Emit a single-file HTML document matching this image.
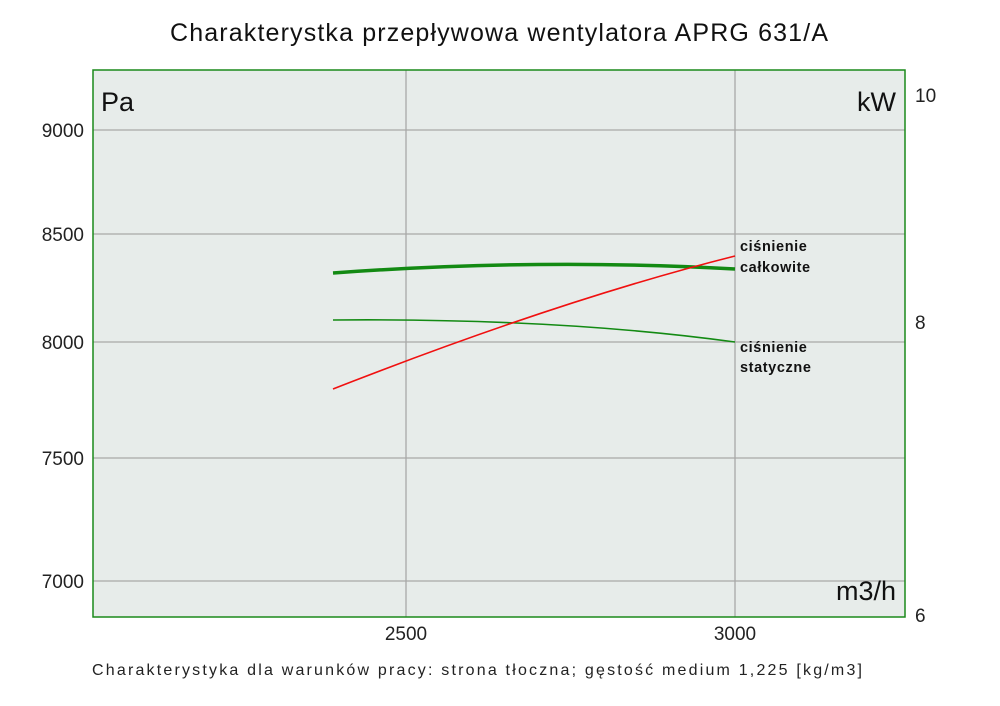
<!DOCTYPE html>
<html><head><style>body{margin:0;background:#fff}svg{display:block}</style></head><body>
<svg width="1000" height="706" xmlns="http://www.w3.org/2000/svg" font-family="'Liberation Sans', sans-serif">
<rect width="1000" height="706" fill="#fff"/>
<text x="170" y="41" font-size="25" fill="#111" textLength="658" lengthAdjust="spacing">Charakterystka przepływowa wentylatora APRG 631/A</text>
<rect x="93" y="70" width="812" height="547" fill="#e7ecea"/>
<g stroke="#a8a8a8" stroke-width="1.3">
<line x1="93" y1="130" x2="905" y2="130"/>
<line x1="93" y1="234" x2="905" y2="234"/>
<line x1="93" y1="342" x2="905" y2="342"/>
<line x1="93" y1="458" x2="905" y2="458"/>
<line x1="93" y1="581" x2="905" y2="581"/>
<line x1="406" y1="70" x2="406" y2="617"/>
<line x1="735" y1="70" x2="735" y2="617"/>
</g>
<rect x="93" y="70" width="812" height="547" fill="none" stroke="#1a8a1a" stroke-width="1.5"/>
<g font-size="19" fill="#222" text-anchor="end">
<text x="84" y="137">9000</text><text x="84" y="241">8500</text><text x="84" y="349">8000</text><text x="84" y="465">7500</text><text x="84" y="588">7000</text>
</g>
<g font-size="19" fill="#222">
<text x="915" y="102">10</text><text x="915" y="329">8</text><text x="915" y="622">6</text>
<text x="406" y="640" text-anchor="middle">2500</text><text x="735" y="640" text-anchor="middle">3000</text>
</g>
<g font-size="27" fill="#111">
<text x="101" y="111">Pa</text><text x="896" y="111" text-anchor="end">kW</text><text x="896" y="600" text-anchor="end">m3/h</text>
</g>
<path d="M333,273 Q540,258 735,269" fill="none" stroke="#138a13" stroke-width="3.5"/>
<path d="M333,320 Q560,318 735,342" fill="none" stroke="#138a13" stroke-width="1.6"/>
<path d="M333,389 Q560,300 735,256" fill="none" stroke="#f01010" stroke-width="1.6"/>
<g font-size="14.5" fill="#111" font-weight="bold" letter-spacing="0.6">
<text x="740" y="251">ciśnienie</text><text x="740" y="272">całkowite</text>
<text x="740" y="352">ciśnienie</text><text x="740" y="372">statyczne</text>
</g>
<text x="92" y="675" font-size="16" fill="#222" textLength="770" lengthAdjust="spacing">Charakterystyka dla warunków pracy: strona tłoczna; gęstość medium 1,225 [kg/m3]</text>
</svg>
</body></html>
